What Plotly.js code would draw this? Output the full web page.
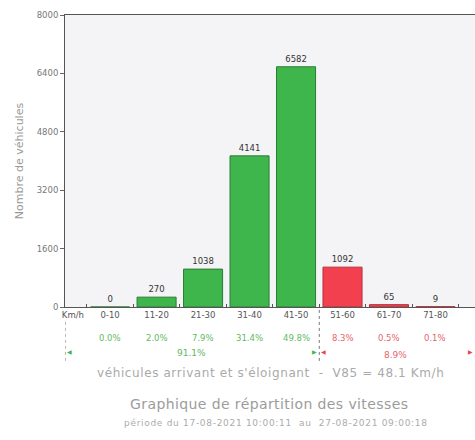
<!DOCTYPE html>
<html>
<head>
<meta charset="utf-8">
<script src="https://cdn.plot.ly/plotly-3.0.1.min.js"></script>
<style>html,body{margin:0;padding:0;background:#fff;}#chart{width:475px;height:440px;}</style>
</head>
<body>
<div id="chart"></div>
<script>
const categories = ["0-10", "11-20", "21-30", "31-40", "41-50", "51-60", "61-70", "71-80"];
const counts = [0, 270, 1038, 4141, 6582, 1092, 65, 9];
const percents = ["0.0%", "2.0%", "7.9%", "31.4%", "49.8%", "8.3%", "0.5%", "0.1%"];
const groupUnder = "91.1%";
const groupOver = "8.9%";
const limitIndex = 5; // first category over the limit
const yTicks = [0, 1600, 3200, 4800, 6400, 8000];
const footerText = "véhicules arrivant et s'éloignant  -  V85 = 48.1 Km/h";
const titleText = "Graphique de répartition des vitesses";
const subtitleText = "période du 17-08-2021 10:00:11  au  27-08-2021 09:00:18";

const GREEN = "#3fb64c", GREEN_LINE = "#2b7d36";
const RED = "#f2404f", RED_LINE = "#b5303c";
const GREEN_TXT = "#5fba62", RED_TXT = "#e8636c";

const xIdx = categories.map((c, i) => i);
const fill = xIdx.map(i => i < limitIndex ? GREEN : RED);
const lineC = xIdx.map(i => i < limitIndex ? GREEN_LINE : RED_LINE);

const F = "DejaVu Sans, sans-serif";

const trace = {
  type: "bar",
  x: xIdx,
  y: counts,
  width: 0.84,
  marker: {color: fill, line: {color: lineC, width: 1}},
  text: counts.map(String),
  textposition: "outside",
  textfont: {family: F, size: 8.5, color: "#333"},
  cliponaxis: false,
  hoverinfo: "none"
};

const sp = (t, ls) => '<span style="letter-spacing:' + ls + 'px">' + t + '</span>';

const annotations = [];
const ann = (x, y, text, size, color, xref) => ({x: x, y: y, xref: xref || "x", yref: "paper", text: text,
  showarrow: false, xanchor: "center", yanchor: "middle", font: {family: F, size: size, color: color}});

xIdx.forEach(i => {
  annotations.push(ann(i, -0.106, percents[i], 8.5, i < limitIndex ? GREEN_TXT : RED_TXT));
});
annotations.push(ann(1.75, -0.158, groupUnder, 9, GREEN_TXT));
annotations.push(ann(6.15, -0.164, groupOver, 9, RED_TXT));
// arrow heads
const tri = (x, t, c, xa) => ({x: x, y: -0.154, xref: "x", yref: "paper", text: t, showarrow: false,
  xanchor: xa, yanchor: "middle", font: {family: "DejaVu Sans", size: 6, color: c}});
annotations.push(tri(-0.97, "◀", GREEN, "left"));
annotations.push(tri(limitIndex - 0.5, "▶", GREEN, "right"));
annotations.push(tri(limitIndex - 0.5, "◀", RED, "left"));
annotations.push(tri(7.85, "▶", RED, "right"));
annotations.push(ann((270 - 65) / 410, -0.227, sp(footerText, 0.6), 12, "#aaaaaa", "paper"));
annotations.push(ann((269 - 65) / 410, -0.332, sp(titleText, 0.4), 14, "#9c9c9c", "paper"));
annotations.push(ann((276 - 65) / 410, -0.397, sp(subtitleText, 0.7), 9, "#ababab", "paper"));

const shapes = [
  {type: "line", xref: "x", yref: "paper", x0: -0.97, x1: -0.97, y0: -0.051, y1: -0.188,
    line: {color: "#777", width: 1, dash: "dot"}},
  {type: "line", xref: "x", yref: "paper", x0: limitIndex - 0.5, x1: limitIndex - 0.5, y0: -0.01, y1: -0.188,
    line: {color: "#777", width: 1, dash: "dot"}}
];

const layout = {
  width: 475, height: 440,
  margin: {l: 65, r: 0, t: 15, b: 133},
  paper_bgcolor: "#ffffff",
  plot_bgcolor: "#f4f4f6",
  showlegend: false,
  xaxis: {
    range: [-0.97, 7.85],
    tickmode: "array",
    tickvals: [-0.8].concat(xIdx),
    ticktext: ["Km/h"].concat(categories),
    ticks: "",
    tickfont: {family: F, size: 8.5, color: "#555"},
    showgrid: false, zeroline: false,
    showline: true, linecolor: "#555", linewidth: 1, mirror: true,
    minor: {tickmode: "linear", tick0: 0.5, dtick: 1, ticks: "inside", ticklen: 3, tickcolor: "#555"}
  },
  yaxis: {
    range: [0, 8000],
    tickmode: "array",
    tickvals: yTicks,
    ticks: "outside", ticklen: 4, tickcolor: "#666",
    tickfont: {family: F, size: 8.5, color: "#777"},
    showgrid: false, zeroline: false,
    showline: true, linecolor: "#555", linewidth: 1,
    title: {text: "Nombre de véhicules", font: {family: F, size: 11, color: "#999"}, standoff: 10}
  },
  annotations: annotations,
  shapes: shapes
};

Plotly.newPlot("chart", [trace], layout, {displayModeBar: false, staticPlot: true});
</script>
</body>
</html>
